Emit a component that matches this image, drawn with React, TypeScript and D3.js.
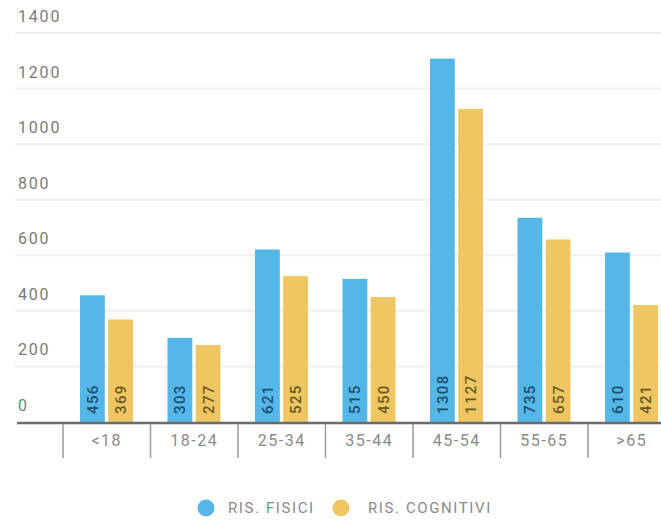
import React from "react";
import * as d3 from "d3";

const categories = ["<18", "18-24", "25-34", "35-44", "45-54", "55-65", ">65"];
const fisici = [456, 303, 621, 515, 1308, 735, 610];
const cognitivi = [369, 277, 525, 450, 1127, 657, 421];
const yTicks = [0, 200, 400, 600, 800, 1000, 1200, 1400];
const seriesNames = ["RIS. FISICI", "RIS. COGNITIVI"];
const seriesColors = ["#55b6e8", "#eec763"];
const labelColors = ["#1d4d6e", "#6a5820"];

const W = 661;
const H = 521;
const FONT = "Roboto, 'DejaVu Sans', sans-serif";

export default function App() {
  const y = d3.scaleLinear().domain([0, 1400]).range([422, 33]);
  const x0 = d3.scaleBand<string>().domain(categories).range([63, 675.5]).padding(0);
  const x1 = d3
    .scaleBand<string>()
    .domain(["0", "1"])
    .range([17, 70])
    .paddingInner(0.12)
    .paddingOuter(0);
  const series = [fisici, cognitivi];

  return (
    <svg
      width={W}
      height={H}
      style={{ position: "absolute", left: 0, top: 0, background: "#fff" }}
      fontFamily={FONT}
    >
      {yTicks.map((t) =>
        t === 0 ? null : (
          <line key={"g" + t} x1={15} x2={W} y1={y(t)} y2={y(t)} stroke="#efefef" strokeWidth={2} />
        )
      )}
      {yTicks.map((t) => (
        <text
          key={"t" + t}
          x={18}
          y={y(t) - 11}
          fontSize={16}
          fill="#7a7a7a"
          letterSpacing={1.8}
        >
          {t}
        </text>
      ))}
      {categories.map((c, i) =>
        series.map((s, si) => {
          const bx = (x0(c) as number) + (x1(String(si)) as number);
          const bw = x1.bandwidth();
          return (
            <g key={c + si}>
              <rect x={bx} y={y(s[i])} width={bw} height={y(0) - y(s[i])} fill={seriesColors[si]} />
              <text
                transform={`translate(${bx + bw / 2 + 5.5},${y(0) - 8}) rotate(-90)`}
                fontSize={15}
                fontWeight={500}
                fill={labelColors[si]}
                letterSpacing={1.4}
              >
                {s[i]}
              </text>
            </g>
          );
        })
      )}
      <line x1={17} x2={W} y1={y(0) + 1} y2={y(0) + 1} stroke="#6b6b6b" strokeWidth={2.5} />
      {categories.map((c) => (
        <line
          key={"s" + c}
          x1={x0(c) as number}
          x2={x0(c) as number}
          y1={y(0) + 2}
          y2={458}
          stroke="#9a9a9a"
          strokeWidth={1.5}
        />
      ))}
      {categories.map((c) => (
        <text
          key={"c" + c}
          x={(x0(c) as number) + x0.bandwidth() / 2}
          y={446}
          fontSize={16}
          fill="#8a8a8a"
          textAnchor="middle"
          letterSpacing={1.5}
        >
          {c}
        </text>
      ))}
      <g>
        <circle cx={206} cy={508} r={8.5} fill={seriesColors[0]} />
        <text x={228} y={513} fontSize={15} fill="#8a8a8a" letterSpacing={1.6}>
          {seriesNames[0]}
        </text>
        <circle cx={341} cy={508} r={8.5} fill={seriesColors[1]} />
        <text x={368} y={513} fontSize={15} fill="#8a8a8a" letterSpacing={1.6}>
          {seriesNames[1]}
        </text>
      </g>
    </svg>
  );
}
